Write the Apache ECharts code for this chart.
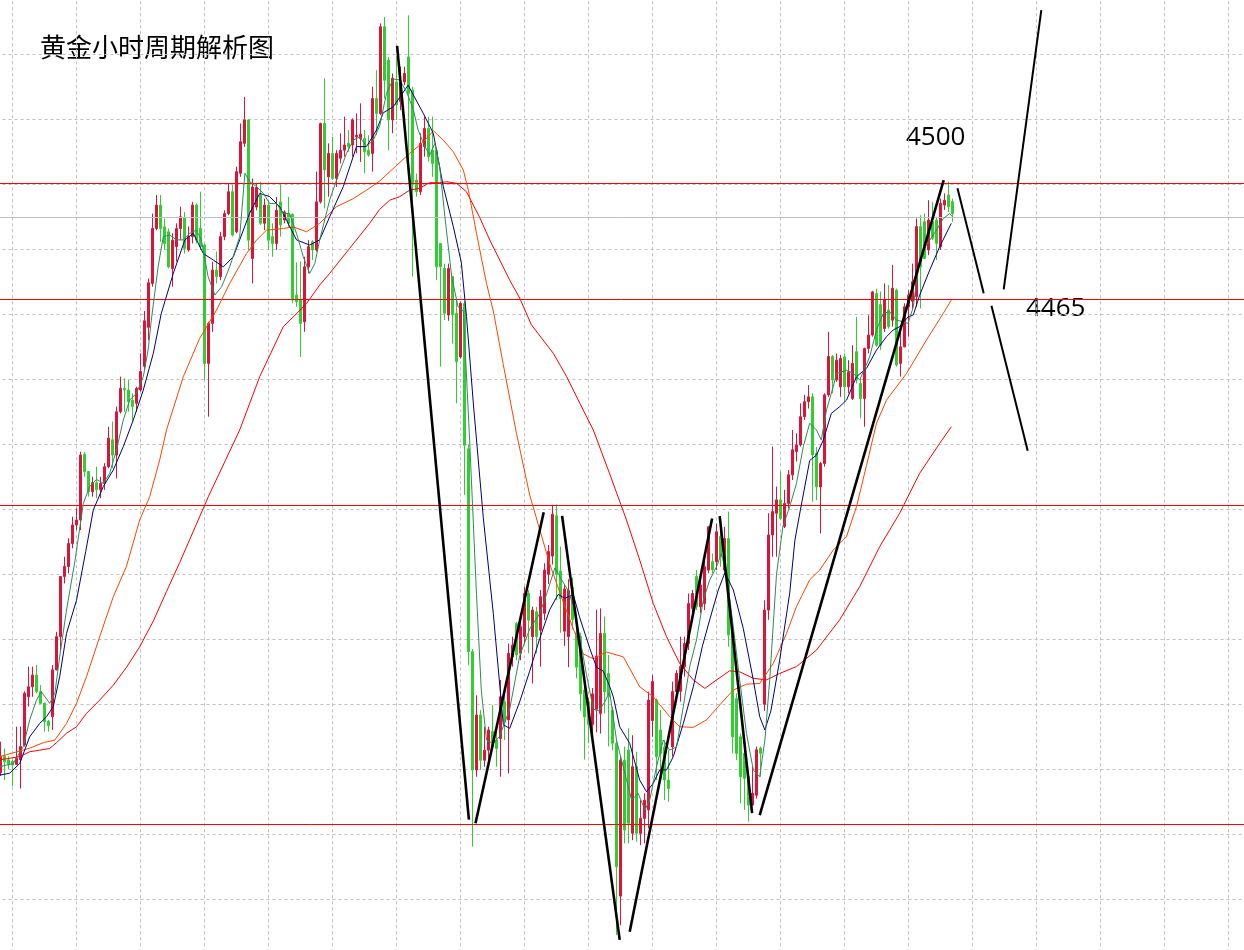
<!DOCTYPE html>
<html>
<head>
<meta charset="utf-8">
<title>黄金小时周期解析图</title>
<script src="https://cdn.jsdelivr.net/npm/echarts@6/dist/echarts.min.js"></script>
<style>
  html, body { margin: 0; padding: 0; background: #fff; }
  #chart { width: 1244px; height: 950px; }
</style>
</head>
<body>
<div id="chart"></div>
<script>
// 第一根K线的序号（左边缘）
const firstBar = -3

// K线 [开, 收, 低, 高]，红涨绿跌
const bars = [
  [4319, 4324, 4318, 4328.5], [4324, 4322.3, 4316.7, 4326.4], [4322.9, 4321.6, 4320, 4324],
  [4322.4, 4321.3, 4314.7, 4322.9], [4321.5, 4323.4, 4321.3, 4333.1], [4322.9, 4327, 4314.1, 4333.1],
  [4327.5, 4343.4, 4327, 4344], [4342.3, 4345.4, 4339.3, 4351.6], [4345.4, 4349, 4342.3, 4351.6],
  [4349, 4343.9, 4343.4, 4352.1], [4343.9, 4340.3, 4340.1, 4345.9], [4340.3, 4334.7, 4331.6, 4340.5],
  [4334.7, 4333.4, 4331.6, 4335.2], [4336.2, 4350.6, 4332.1, 4352.1], [4350.6, 4360.8, 4350.4, 4362.3],
  [4360.8, 4379.3, 4356.7, 4379.5], [4379.3, 4382.4, 4377.2, 4385.4], [4382.4, 4389.5, 4380.3, 4391.1],
  [4389.5, 4395.2, 4388, 4397.7], [4395.2, 4396.7, 4393.6, 4400.3], [4396.7, 4416.7, 4393.6, 4417.7],
  [4416.9, 4411.6, 4410, 4417.7], [4411.6, 4405.4, 4403.9, 4411.8], [4405.4, 4408.2, 4403.9, 4410],
  [4408.2, 4406, 4403.4, 4413.1], [4406, 4408, 4403.4, 4410], [4408, 4413.1, 4406, 4414.2],
  [4413.1, 4421.9, 4412.6, 4425.4], [4421.4, 4416.7, 4412.6, 4427], [4416.7, 4430, 4409.5, 4431.6],
  [4430, 4437.2, 4429.5, 4440.8], [4437.2, 4436.7, 4430, 4440.3], [4436.7, 4433.1, 4430, 4439.8],
  [4433.6, 4431.6, 4427, 4435.7], [4432.6, 4437.2, 4430, 4437.7], [4436.7, 4442.4, 4436.2, 4448],
  [4444, 4458, 4443, 4461], [4456, 4469.7, 4452, 4471], [4469.5, 4486.4, 4468.5, 4491],
  [4486.4, 4493.6, 4485.9, 4496.7], [4493.6, 4486.4, 4482.3, 4496.7], [4486.9, 4481.8, 4479.8, 4489.5],
  [4485.4, 4474.6, 4474.1, 4486.4], [4474.1, 4482.8, 4468.5, 4484.9], [4480.8, 4486.4, 4476.2, 4488],
  [4486.4, 4490, 4482.8, 4493.1], [4489.8, 4480.3, 4478.7, 4491.5], [4479.8, 4483.9, 4479.3, 4487],
  [4483.9, 4493.6, 4481.8, 4494.6], [4493.6, 4482.8, 4481.8, 4494.1], [4486.4, 4480.8, 4479.8, 4497.7],
  [4481.3, 4444.9, 4439.8, 4481.8], [4444.9, 4457.2, 4428.5, 4457.7], [4457.2, 4473.6, 4454.6, 4476.2],
  [4473.6, 4471.6, 4469.5, 4479.3], [4471.6, 4483.9, 4470.5, 4485.4], [4483.9, 4491, 4482.8, 4492],
  [4491, 4497.7, 4490.5, 4500.3], [4497.7, 4484.4, 4483.9, 4499.8], [4485.4, 4503.9, 4484.9, 4505.4],
  [4503.4, 4513.1, 4502.3, 4518.7], [4512.6, 4519.8, 4511.5, 4526.9], [4519.8, 4482.8, 4479.8, 4520],
  [4477.2, 4499.2, 4469.5, 4501.8], [4493, 4499, 4492, 4500], [4496.7, 4488, 4487.5, 4500.8],
  [4488, 4493.6, 4485.9, 4495.6], [4493.6, 4482.8, 4479.8, 4495.1], [4483.9, 4481.8, 4477.7, 4488],
  [4481.8, 4492, 4479.8, 4496.1], [4494.6, 4487.5, 4483.9, 4500.3], [4489, 4491.5, 4488, 4492],
  [4490.8, 4488, 4486.9, 4496.1], [4490.8, 4464.4, 4463.4, 4491], [4465.9, 4463.9, 4462.3, 4476],
  [4464.4, 4457.2, 4446.9, 4476.2], [4457.7, 4474.6, 4454.6, 4477.7], [4474.6, 4480.8, 4472.6, 4482.8],
  [4482.3, 4479.8, 4476.7, 4482.8], [4479.8, 4494.6, 4479.3, 4503.9], [4494.6, 4518.7, 4494.1, 4519],
  [4518.7, 4504.4, 4492.6, 4532.6], [4502.3, 4509.5, 4496.2, 4512.6], [4509.5, 4501.8, 4501.3, 4514.6],
  [4501.8, 4509.5, 4499.2, 4510.5], [4508, 4510.5, 4506.4, 4515.7], [4510.5, 4512.1, 4508.5, 4520.8],
  [4512.6, 4511.6, 4510, 4516.7], [4512.1, 4519.8, 4508.5, 4520.3], [4514.6, 4515.1, 4509.5, 4521.8],
  [4514.1, 4515.4, 4506.9, 4524.9], [4514.1, 4510, 4503.4, 4516.7], [4510.5, 4509, 4508.5, 4515.1],
  [4509.5, 4526.4, 4503.9, 4530], [4526.4, 4521.8, 4515.1, 4535.1], [4521.8, 4548.5, 4521.3, 4549.5],
  [4548.5, 4532, 4526.4, 4551.5], [4538.2, 4519.8, 4510.5, 4539.2], [4519.8, 4532.6, 4515.7, 4534.1],
  [4531.5, 4524.4, 4519.8, 4539.2], [4525.4, 4531.5, 4522.8, 4536.2], [4531.5, 4534.1, 4530.5, 4536.2],
  [4539.2, 4528, 4502.3, 4552], [4529, 4500, 4471.6, 4530], [4501.3, 4497.7, 4496.2, 4503.3],
  [4497.7, 4512.6, 4496.7, 4515.7], [4511.6, 4517.2, 4508.5, 4520.8], [4517.2, 4508.5, 4507, 4520.8],
  [4510.5, 4506.4, 4502.3, 4520.8], [4510.5, 4474.6, 4470.5, 4510.7], [4481.8, 4474.6, 4443.9, 4481.9],
  [4474.1, 4460.3, 4458.2, 4475.6], [4459.8, 4474.1, 4458, 4475.6], [4471.6, 4459.8, 4451, 4471.8],
  [4460.3, 4445.4, 4432.6, 4464.4], [4446.9, 4463.4, 4446.4, 4463.9], [4463.3, 4419.7, 4404.4, 4464],
  [4418.6, 4356.2, 4352, 4420], [4356.2, 4319.8, 4296.2, 4357], [4319.8, 4336.7, 4317.7, 4342.8],
  [4336.7, 4322.8, 4319.8, 4338.2], [4322.8, 4325.9, 4320.8, 4333.1], [4325.9, 4332.1, 4322.8, 4333.1],
  [4331.6, 4327, 4325.9, 4339.8], [4329, 4326.4, 4320.8, 4333.1], [4329.5, 4342.3, 4317.7, 4347.5],
  [4340.8, 4334.6, 4329, 4343.4], [4335.2, 4355.7, 4318.7, 4358.7], [4354.6, 4358.2, 4351.6, 4360.8],
  [4364.9, 4355.2, 4353.6, 4365.4], [4355.7, 4363.9, 4353.6, 4366.4], [4360.8, 4374.1, 4358.7, 4376.2],
  [4374.1, 4365.9, 4355.7, 4375.2], [4360.8, 4369, 4346.4, 4370], [4368.5, 4360.8, 4355.7, 4370],
  [4362.8, 4373.1, 4351.6, 4375.2], [4368, 4381.3, 4365.9, 4383.4], [4380, 4387, 4377, 4389],
  [4385.6, 4398.5, 4383, 4401.4], [4398, 4380, 4372, 4401.5], [4381, 4372.5, 4362, 4388.5],
  [4362.5, 4375.5, 4358, 4377], [4360.8, 4375, 4351.4, 4378.5], [4376.1, 4366.1, 4363, 4379],
  [4362, 4351.4, 4348, 4364], [4360.8, 4343.2, 4338, 4362], [4344.3, 4336.1, 4323, 4346],
  [4340.8, 4333.8, 4328, 4342], [4333.8, 4343.2, 4330, 4345], [4338.5, 4354.9, 4331.4, 4369.1],
  [4337.2, 4361.8, 4331, 4369.5], [4361.8, 4343.9, 4337.2, 4367], [4349.5, 4342.3, 4327, 4355.2],
  [4338.2, 4328, 4325.9, 4339.3], [4328, 4290, 4269, 4329], [4281, 4322.8, 4272, 4324],
  [4322.8, 4301.3, 4297.2, 4327], [4325.9, 4303.4, 4297.2, 4332.6], [4300.3, 4320.8, 4298.2, 4330.5],
  [4320.8, 4300.3, 4297.7, 4325.4], [4300.3, 4304.9, 4296.7, 4310.5], [4304.9, 4310.5, 4297.2, 4312.6],
  [4307.5, 4341.3, 4301.8, 4343.9], [4335, 4347, 4330, 4349], [4341.3, 4323.9, 4316.7, 4341.8],
  [4332.1, 4324.9, 4317.2, 4338.2], [4326.9, 4316.7, 4310.5, 4329], [4316.7, 4314.1, 4310, 4325.9],
  [4326.9, 4343.9, 4323.9, 4347], [4343.9, 4349.5, 4341.3, 4350.5], [4344, 4351.6, 4340.8, 4360.8],
  [4351.6, 4358.7, 4348.5, 4360.8], [4358.7, 4371, 4356.7, 4374.1], [4369.5, 4374.1, 4367, 4375.2],
  [4379.3, 4370, 4369, 4381.3], [4370, 4376.7, 4368, 4379.8], [4371, 4382.3, 4369, 4384.4],
  [4381.3, 4394.6, 4380.3, 4394.8], [4383.9, 4381.3, 4380.3, 4386.4], [4383.9, 4393.1, 4381.3, 4395.6],
  [4391.6, 4385.4, 4382.3, 4395.6], [4381.3, 4391, 4380.8, 4394.6], [4391, 4361.3, 4357.7, 4399.3],
  [4362.3, 4330, 4324.9, 4362.5], [4341.8, 4324.9, 4322.8, 4343.4], [4330, 4317.7, 4309.5, 4331],
  [4324.9, 4317.2, 4307.5, 4328], [4317.7, 4309, 4303.9, 4318.7], [4309, 4312.6, 4308.8, 4320.8],
  [4312, 4326, 4311, 4327], [4326.5, 4324.9, 4317.7, 4327], [4340, 4369, 4338, 4372],
  [4369, 4392.1, 4366, 4398.8], [4392.1, 4399.3, 4385.4, 4419.3], [4398.8, 4402.9, 4385.4, 4407],
  [4402.9, 4397.2, 4396.7, 4411.6], [4394.7, 4401.8, 4394.2, 4406], [4401.8, 4410.6, 4400.3, 4412.1],
  [4410.6, 4418.3, 4409, 4424.4], [4417.8, 4419.8, 4414.7, 4423.4], [4419.8, 4428.5, 4419.3, 4432.6],
  [4428.5, 4433.1, 4427.5, 4435.2], [4433.1, 4434.6, 4431, 4438.2], [4434.6, 4416.7, 4402.3, 4435.7],
  [4417.2, 4406.9, 4402.8, 4419.2], [4406.9, 4414.1, 4392.6, 4414.6], [4414.1, 4435.2, 4413.1, 4435.7],
  [4435.2, 4447, 4434.6, 4454.6], [4447, 4439.8, 4435.7, 4447.5], [4439.8, 4445.9, 4439.2, 4447.9],
  [4437.7, 4446.4, 4434.6, 4447.5], [4446.9, 4437.7, 4433.1, 4447.9], [4437.7, 4442.3, 4435.7, 4445.9],
  [4434.1, 4444.9, 4433.6, 4450.5], [4448.5, 4439.8, 4438.7, 4459.2], [4438.7, 4434.1, 4428, 4440.3],
  [4434.1, 4449.5, 4425.4, 4449.7], [4449.5, 4453.6, 4448, 4459.7], [4453.6, 4466.9, 4453.1, 4467.2],
  [4466.4, 4450.5, 4450, 4467.9], [4463, 4450.5, 4449, 4467], [4455.6, 4464.4, 4454.6, 4469.5],
  [4461.3, 4456.2, 4455.6, 4469], [4458.2, 4468, 4456.2, 4475.2], [4467.4, 4444.4, 4443.9, 4467.9],
  [4444.9, 4450, 4440.8, 4455.6], [4450, 4462.3, 4449.8, 4463.4], [4462.3, 4465.9, 4453.1, 4467.4],
  [4464, 4470, 4461.8, 4475.6], [4465.4, 4487, 4462.3, 4489.5], [4487, 4474.6, 4461.8, 4490.5],
  [4488.5, 4477.2, 4477, 4491], [4479.8, 4489, 4478.2, 4495.1], [4488.5, 4483.4, 4482.8, 4494.6],
  [4489, 4481.8, 4476.7, 4490], [4480.8, 4494.1, 4479.8, 4495.6], [4493.6, 4495.1, 4492.1, 4497.2],
  [4496.7, 4493.1, 4491.5, 4500.8], [4494.6, 4491, 4488.5, 4495.6]
]

// 均线 [K线序号, 价格]
const ma5Line = [
  [-3.2, 4320.8], [0.2, 4321.8], [2.7, 4327], [4.3, 4335.2], [6, 4341.3], [7.2, 4343.9], [9.3, 4340.3],
  [10.6, 4343.4], [11.8, 4354.7], [13.5, 4369], [15.6, 4384], [17.7, 4401.8], [19.3, 4407], [21, 4409.2],
  [22.7, 4408], [24.3, 4411.1], [26, 4418.3], [27.7, 4427.5], [29.3, 4433.6], [31, 4435.7], [32.7, 4440.8],
  [33.9, 4449], [34.7, 4458.2], [36.4, 4474.6], [37.7, 4483.9], [39.3, 4484.4], [41, 4482.9], [42.7, 4482.9],
  [44.3, 4484.9], [46, 4485.9], [47.2, 4482.9], [48.9, 4471.6], [50.6, 4465.9], [52.3, 4468.5], [54.3, 4474.6],
  [56.8, 4483.9], [58.1, 4503.4], [59.3, 4500.8], [61, 4499.3], [62.7, 4497.2], [64.3, 4494.1], [66, 4494.1],
  [67.7, 4491], [69.3, 4491], [71, 4484.9], [72.7, 4477.7], [74.3, 4472.6], [75.6, 4475.7], [76.8, 4482.9],
  [79.3, 4495.2], [81, 4501.3], [83.5, 4509.5], [85.2, 4513.6], [86.8, 4514.6], [88.5, 4511.6], [90.2, 4513.6],
  [91.8, 4518], [93.5, 4528], [95.2, 4532.4], [96.8, 4532.1], [98.5, 4528.5], [100.2, 4523], [101.4, 4516.7],
  [103.1, 4511.6], [104.3, 4509], [105.6, 4512.6], [106.8, 4505.4], [108.1, 4490], [109.8, 4471.6],
  [111.4, 4462.3], [112.7, 4461], [114.3, 4420.9], [116, 4373.8], [117.2, 4344.3], [118.5, 4329],
  [120.2, 4327.9], [121.8, 4330.2], [124.3, 4338.5], [126.8, 4354.9], [129.3, 4363.2], [131.8, 4367.9],
  [133.5, 4373.8], [135.6, 4382], [137.2, 4378.5], [138.9, 4375], [140.2, 4370.3], [141.8, 4360.8],
  [143.5, 4349.1], [145.2, 4338.5], [146.6, 4338], [148.1, 4340.8], [149.3, 4343.8], [151, 4329],
  [153.1, 4318.7], [154.8, 4310.5], [156.4, 4312.6], [158.1, 4307.5], [159.3, 4310.5], [161, 4320.8],
  [162.7, 4329], [164.3, 4325.9], [166, 4326.9], [167.7, 4339.3], [169.3, 4351.6], [171, 4359.8],
  [172.7, 4372.1], [174.3, 4378.2], [176, 4382.3], [177.2, 4386.4], [178.5, 4380.3], [180.2, 4363.9],
  [181.8, 4347.5], [183.5, 4331], [185.2, 4319.8], [186.8, 4317.7], [188.1, 4329], [189.3, 4347.5],
  [191, 4380], [192.6, 4394.7], [194.3, 4400.8], [196, 4408], [197.7, 4419.3], [199.3, 4426.5],
  [201, 4424.4], [202.2, 4421.3], [203.5, 4430.6], [205.2, 4437.8], [206, 4441.8], [208.5, 4442.8],
  [210.2, 4441.8], [211.8, 4439.8], [214.3, 4446.9], [216, 4455.2], [217.7, 4460.3], [219.3, 4460.8],
  [221, 4458.2], [222.7, 4457.7], [223.9, 4457.2], [225.2, 4462.3], [226.4, 4473.6], [227.7, 4479.8],
  [229.3, 4482.8], [231, 4485.9], [232.7, 4489.5], [234.3, 4491], [235, 4490]
]

const ma10Line = [
  [-3.2, 4318.2], [-0.7, 4318.8], [1.8, 4321.8], [4.3, 4330], [6.8, 4334.1], [8.5, 4336.2], [10.2, 4339.3],
  [11.8, 4348.5], [13.5, 4361.8], [16, 4372], [18.3, 4387], [20.2, 4399.8], [22.7, 4407], [25.2, 4412.1],
  [27.7, 4419.3], [30.2, 4427.5], [32.7, 4436.7], [35.2, 4448], [37.2, 4460.3], [40.2, 4472.6],
  [43.1, 4482.9], [45.2, 4484.9], [47.7, 4478.7], [50.2, 4476.7], [52.7, 4474.6], [55.2, 4477.7],
  [56.8, 4482.9], [59.3, 4491.1], [61.8, 4497.2], [64.3, 4496.2], [66.8, 4493.1], [68.5, 4489],
  [71, 4482.9], [74.3, 4481.3], [76.8, 4482.9], [79.3, 4490], [82.7, 4499.3], [86, 4511.6], [88.5, 4511.6],
  [91, 4516.7], [92.7, 4522], [95.2, 4523.9], [98.9, 4530.5], [102.7, 4521.8], [105.2, 4515.7],
  [107.7, 4499.3], [110.2, 4487], [112.2, 4476], [113.5, 4459.3], [115.2, 4432.7], [117.7, 4397.4],
  [120.2, 4367.9], [122.7, 4333.7], [124.3, 4332.6], [126.8, 4340.8], [129.3, 4350.2], [131.8, 4360.2],
  [134.3, 4369.1], [136.4, 4373.8], [138.1, 4372.6], [140.2, 4373.8], [141.8, 4366.7], [144.3, 4357.3],
  [146, 4351.4], [147.7, 4350.2], [149.3, 4345.5], [150.2, 4342.3], [151.8, 4333.1], [154.3, 4328],
  [156.8, 4316.7], [158.5, 4313.1], [160.2, 4315.7], [161.8, 4319.8], [163.5, 4319.8], [165.2, 4323.9],
  [167.7, 4334.1], [170.2, 4345.4], [172.5, 4358], [174.3, 4366], [176.4, 4375], [178.1, 4380.5],
  [180.2, 4375.2], [182.7, 4363.3], [185.2, 4347.5], [186.8, 4336.2], [188.1, 4332.1], [189.6, 4338],
  [191.8, 4353.6], [194.3, 4374.2], [195.6, 4390.5], [197, 4400], [199.3, 4415], [201, 4416.7],
  [202.7, 4421.3], [204.7, 4429.5], [206.8, 4431.6], [208.5, 4433.6], [211, 4440.8], [213.5, 4443.4],
  [216, 4449], [218.5, 4453.1], [220.2, 4455.2], [221.8, 4456.2], [223.9, 4459.2], [225.2, 4459.8],
  [226.8, 4465.9], [229.3, 4473.6], [231.8, 4480.8], [234.7, 4488]
]

const ma30Line = [
  [-3.2, 4323.9], [4.3, 4326.5], [7.7, 4328.2], [10.6, 4329], [13.5, 4334.1], [16, 4340.3], [18.5, 4348.5],
  [21.8, 4360.8], [25.2, 4373.1], [28.5, 4382.5], [31.8, 4396.7], [34.3, 4403.9], [36.8, 4415.2],
  [38.5, 4424.4], [42.7, 4440.8], [46.8, 4452.6], [51, 4461.3], [54.3, 4469.5], [58.5, 4478.7],
  [61, 4482.8], [63.5, 4485.9], [67.7, 4486.4], [70.2, 4486.9], [73.5, 4485.4], [76.8, 4488],
  [81, 4493.1], [85.2, 4495.6], [88.5, 4498.2], [91.8, 4501], [96, 4505.8], [99.3, 4509.5],
  [102.7, 4513], [105.2, 4516.5], [107.7, 4513.6], [110.2, 4510], [112.7, 4504.4], [114, 4498],
  [116, 4484.9], [118.5, 4469.5], [120.2, 4461], [122.7, 4444.5], [126, 4423.3], [129.3, 4404.4],
  [131.8, 4393.8], [134.3, 4383.2], [137.7, 4371.4], [140.2, 4363.2], [142.7, 4355.5], [145.2, 4354],
  [148.5, 4356.1], [152.7, 4354.6], [156.8, 4345.4], [160.2, 4342.3], [164.3, 4336.2], [166.8, 4333.1],
  [170.2, 4332.9], [173.5, 4335.2], [176.8, 4339.8], [180.2, 4344.4], [183.5, 4346.2], [186.8, 4346.4],
  [190.2, 4352.6], [193.5, 4361.8], [196, 4370.1], [199.3, 4378.3], [201.8, 4381.3], [205.2, 4387.5],
  [208.5, 4391.6], [211, 4400.8], [213.5, 4413.5], [216, 4426.5], [218.5, 4433.6], [223.5, 4441.8],
  [228.5, 4452.1], [232.7, 4460.3], [234.7, 4464.4]
]

const ma60Line = [
  [-3.2, 4322.9], [1.8, 4323.9], [4.3, 4325.4], [6.8, 4325.9], [9.3, 4326.4], [11, 4328.2], [13.5, 4331.1],
  [16, 4333.1], [18.5, 4337.2], [21.8, 4341.3], [25.2, 4345.9], [28.5, 4351.4], [31.8, 4357.7],
  [35.2, 4365.6], [38.5, 4374.7], [41.8, 4383.6], [49, 4404], [56.8, 4424.4], [61.8, 4440.8],
  [67.7, 4456.2], [70.2, 4459.2], [73.5, 4463.3], [76.8, 4469], [79.3, 4472.6], [84.3, 4480.3],
  [89.3, 4488], [91.8, 4492.3], [94.3, 4495.1], [96.8, 4496.2], [99.3, 4498.2], [101.8, 4498.8],
  [104.3, 4500.5], [106.8, 4500.5], [108.5, 4500.8], [111, 4500.3], [113.5, 4497.7], [116.8, 4489.8],
  [119.3, 4482.9], [121.8, 4476.7], [124.3, 4470.5], [126.8, 4465], [129.7, 4456.8], [135.2, 4448],
  [138.5, 4440.9], [141.8, 4432.7], [145.2, 4424.4], [149.3, 4410.9], [153.5, 4396.7], [156.8, 4384.4],
  [160.2, 4371], [163.5, 4360.8], [166.8, 4352.6], [170.2, 4347.5], [173.1, 4344.9], [176, 4347.5],
  [179.3, 4350.3], [181.8, 4350], [185.2, 4348], [188.5, 4347.5], [191.8, 4349.5], [196, 4351.6],
  [201, 4356.7], [206.8, 4366], [211.8, 4376.2], [216.8, 4388.5], [221.8, 4398.8], [226.8, 4411.1],
  [231.8, 4420.3], [234.7, 4425.4]
]

// 水平价位线
const redLevels = [4500.25, 4464.55, 4401.17, 4303.02]
const bidLevel = 4489.78

// 手绘趋势线 [[序号, 价格], [序号, 价格]]
const trendLines = [
  [[96.15, 4542.6], [114.1, 4304.5]],
  [[115.75, 4303.4], [132.8, 4399.1]],
  [[137.4, 4398], [151.8, 4267.5]],
  [[154.3, 4270], [174.9, 4397.2]],
  [[176.8, 4397.9], [184.9, 4306.5]],
  [[186.8, 4305.9], [232.8, 4501.3]],
  [[236.25, 4498.8], [242.8, 4466.5]],
  [[247.8, 4467.7], [257.2, 4553.6]],
  [[244.75, 4462.6], [253.8, 4418]]
]

const chartInstance = echarts.init(document.getElementById('chart'))

const candleData = bars.map((b, i) => [firstBar + i, b[0], b[1], b[2], b[3]])

const maSeries = (data, color) => ({
  type: 'line',
  data: data,
  showSymbol: false,
  symbol: 'none',
  silent: true,
  z: 4,
  lineStyle: { color: color, width: 1 }
})

// 水平线：每条一段 lines，两端取在坐标轴范围之外
const levelSeries = (levels, color) => ({
  type: 'lines',
  coordinateSystem: 'cartesian2d',
  silent: true,
  z: 3,
  data: levels.map((v) => ({
    coords: [[-16, v], [307.875, v]],
    lineStyle: { color: color, width: 1, opacity: 1 }
  }))
})

const option = {
  animation: false,
  backgroundColor: '#ffffff',
  grid: {
    left: -51.5,
    right: 0,
    top: -10.7,
    bottom: -14.3,
    outerBoundsMode: 'none'
  },
  xAxis: {
    type: 'value',
    min: -16,
    max: 307.875,
    interval: 16,
    axisLine: { show: false },
    axisTick: { show: false },
    axisLabel: { show: false },
    splitLine: { show: true, lineStyle: { color: '#c0c0c0', width: 1, type: [3, 3] } }
  },
  yAxis: {
    type: 'value',
    min: 4260,
    max: 4560,
    interval: 20,
    axisLine: { show: false },
    axisTick: { show: false },
    axisLabel: { show: false },
    splitLine: { show: true, lineStyle: { color: '#c0c0c0', width: 1, type: [3, 3] } }
  },
  graphic: [
    {
      type: 'text',
      left: 40,
      top: 34,
      style: { text: '黄金小时周期解析图', font: '26px "Noto Sans CJK SC"', fill: '#000' }
    },
    {
      type: 'text',
      left: 906,
      top: 125,
      style: { text: '4500', font: '26px "Open Sans"', fill: '#000' }
    },
    {
      type: 'text',
      left: 1026,
      top: 296,
      style: { text: '4465', font: '26px "Open Sans"', fill: '#000' }
    }
  ],
  series: [
    {
      type: 'candlestick',
      data: candleData,
      encode: { x: 0, y: [1, 2, 3, 4] },
      barWidth: 2,
      silent: true,
      z: 2,
      itemStyle: {
        color: '#dc143c',
        color0: '#32cd32',
        borderColor: '#dc143c',
        borderColor0: '#32cd32',
        borderWidth: 1
      }
    },
    levelSeries(redLevels, '#ff0000'),
    levelSeries([bidLevel], '#c0c0c0'),
    maSeries(ma60Line, '#ff0000'),
    maSeries(ma30Line, '#ff4500'),
    maSeries(ma10Line, '#000080'),
    maSeries(ma5Line, '#2e8b57'),
    {
      type: 'lines',
      coordinateSystem: 'cartesian2d',
      silent: true,
      z: 5,
      data: trendLines.map((seg, i) => ({
        coords: seg,
        lineStyle: { color: '#000000', width: i < 6 ? 2.6 : 2, opacity: 1 }
      }))
    }
  ]
}

chartInstance.setOption(option)
</script>
</body>
</html>
